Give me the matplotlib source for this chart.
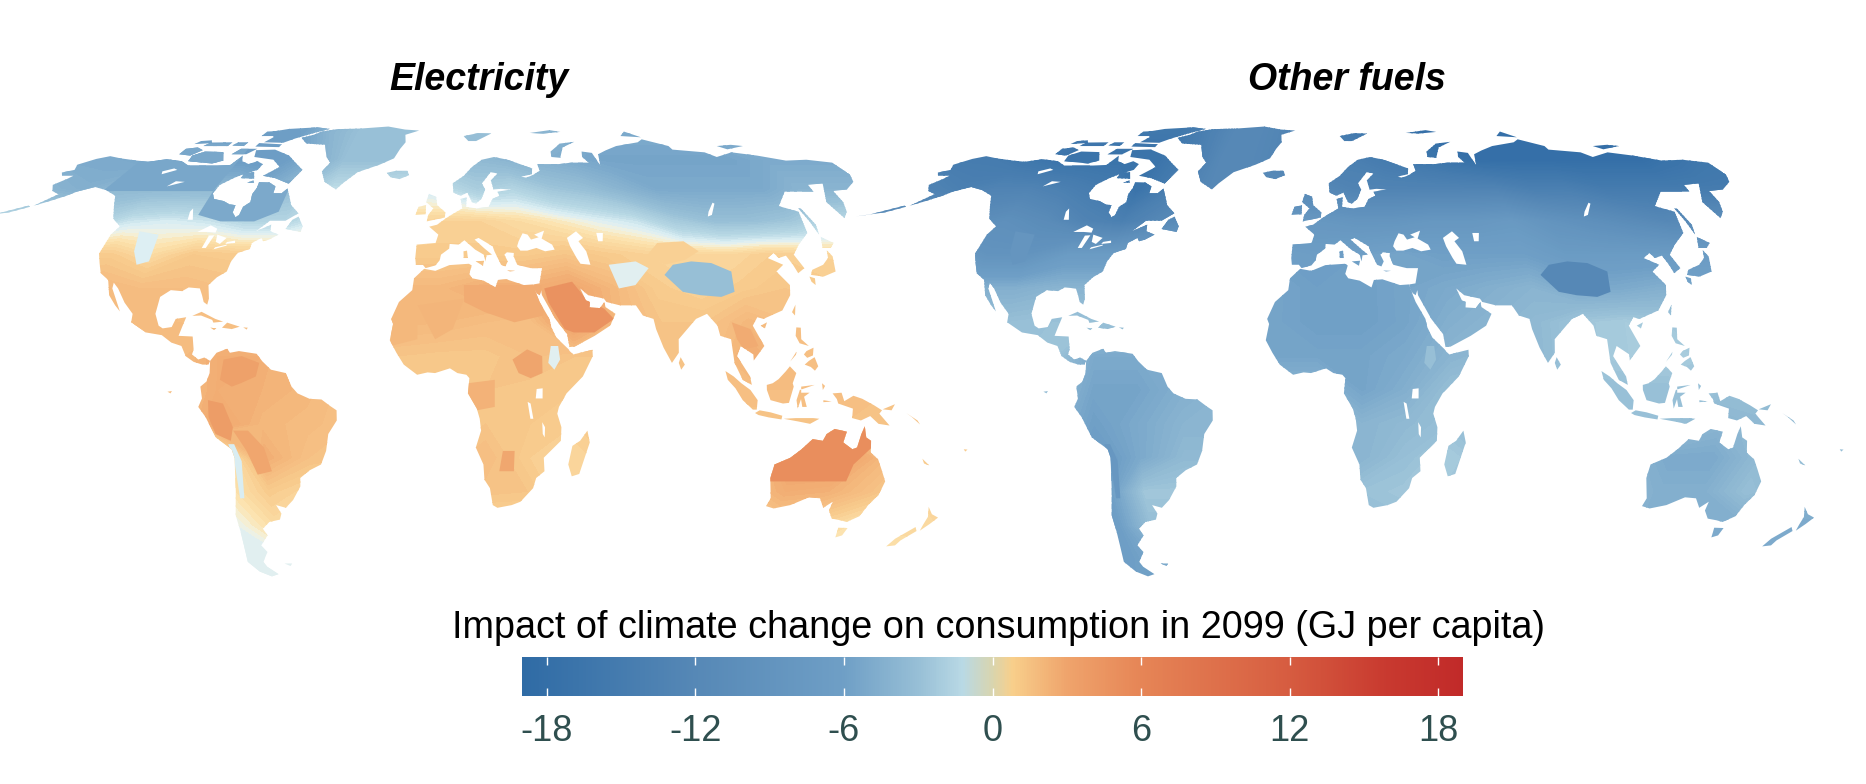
import numpy as np
import matplotlib
matplotlib.use("Agg")
import matplotlib.pyplot as plt
from matplotlib.colors import LinearSegmentedColormap, Normalize
from matplotlib.cm import ScalarMappable
from matplotlib.path import Path

plt.rcParams["font.family"] = ["Liberation Sans", "DejaVu Sans"]
plt.rcParams["axes.unicode_minus"] = False

##### panel titles, colour bar
panel_titles = ["Electricity", "Other fuels"]
bar_title = "Impact of climate change on consumption in 2099 (GJ per capita)"
bar_ticks = [-18, -12, -6, 0, 6, 12, 18]
value_limit = 19

grid_lons = [-180, -165, -150, -135, -120, -105, -90, -75, -60, -45, -30, -15, 0,
             15, 30, 45, 60, 75, 90, 105, 120, 135, 150, 165, 180]
grid_lats = [90, 80, 70, 60, 50, 40, 30, 20, 10, 0, -10, -20, -30, -40, -50, -60]
electricity_grid = [
    [-5, -5, -5, -6, -6, -6, -6, -6, -4, -3, -3, -3, -3, -3, -3, -4, -4, -5, -5, -5, -5, -5, -5, -5, -5],
    [-5, -5, -5, -6, -6, -6, -6.5, -6, -4, -3, -3, -3, -3, -3, -3, -4, -4, -5, -5, -5, -5, -5, -5, -5, -5],
    [-5, -5, -5, -5.5, -6, -6.5, -6.5, -6.5, -5, -3, -3, -3, -3, -3.5, -4, -4.5, -5, -5.5, -5.5, -5.5, -5.5, -5.5, -5, -5, -5],
    [-4, -4, -4.5, -3.5, -3.5, -3.5, -3.5, -5, -3, -1, -1, -0.5, -1, -2, -1.5, -2.5, -3, -4, -5, -5, -5, -5, -4, -4, -4],
    [-1, -1, -1, -2, -0.8, -0.5, -0.8, -1.5, -1.5, -0.5, 0.5, 1, 1.2, 1.2, 0.8, 0.3, -0.3, -0.8, -2.2, -3, -3, -2.5, -1.5, -1, -1],
    [1.5, 1.5, 1.5, 1.5, 1.5, 0.8, 1.6, 1.5, 1.5, 1.5, 1.5, 1.5, 1.5, 1.5, 1.5, 1.8, 1.5, 1.2, 1, 1, 1.4, 1.2, 1, 1, 1],
    [2, 2, 2, 2, 2.5, 2.2, 2.2, 2, 2, 2, 2, 2.5, 2.5, 3, 3, 3.5, 2.5, 1.5, 1.2, 1.5, 1.8, 1.5, 1.5, 1.5, 1.5],
    [2, 2, 2, 2, 2, 2.2, 2.2, 2, 2, 2, 2, 2.5, 2.4, 2.2, 2, 4, 2.5, 1.8, 1.8, 2.5, 2, 2, 2, 2, 2],
    [2, 2, 2, 2, 2, 2, 2.2, 3, 3, 2, 2, 1.8, 1.7, 1.7, 2, 1.8, 1.8, 1.8, 2, 3, 2.2, 2, 2, 2, 2],
    [2, 2, 2, 2, 2, 2, 2, 3, 2.8, 2.5, 2, 1.7, 1.7, 1.8, 1.7, 1.6, 1.7, 1.8, 2, 2.2, 2.2, 2, 2, 2, 2],
    [2, 2, 2, 2, 2, 2, 2, 3.5, 2.5, 2.3, 2, 1.7, 1.7, 1.8, 1.6, 1.4, 1.6, 1.8, 1.8, 1.8, 1.8, 2, 1.8, 1.8, 1.8],
    [1.5, 1.5, 1.5, 1.5, 1.5, 1.5, 1.5, -0.3, 3, 2, 1.8, 1.8, 1.8, 2.2, 1.4, 1, 1.5, 1.5, 1.5, 2, 4, 4, 2.5, 1.5, 1.5],
    [1, 1, 1, 1, 1, 1, 1, 0.3, 1.5, 1, 1, 1.6, 1.6, 1.9, 1.8, 1, 1, 1, 1, 2, 3, 2.8, 2, 1, 1],
    [1, 1, 1, 1, 1, 1, 1, -0.3, 0.8, 0.8, 1, 1, 1, 1, 1, 1, 1, 1, 1, 1, 1.5, 1.2, 0.5, 0.9, 1],
    [0.5, 0.5, 0.5, 0.5, 0.5, 0.5, 0.5, -0.3, -0.3, -0.3, 0.5, 0.5, 0.5, 0.5, 0.5, 0.5, 0.5, 0.5, 0.5, 0.5, 0.5, 0.5, 0.5, 0.5, 0.5],
    [0.5, 0.5, 0.5, 0.5, 0.5, 0.5, 0.5, -0.3, -0.3, -0.3, 0.5, 0.5, 0.5, 0.5, 0.5, 0.5, 0.5, 0.5, 0.5, 0.5, 0.5, 0.5, 0.5, 0.5, 0.5],
]
other_fuels_grid = [
    [-15, -15, -15, -16, -16, -16, -16, -16, -14, -12, -12, -13, -14, -15, -16, -17, -18, -18, -18, -18, -18, -18, -17, -16, -15],
    [-15, -15, -15, -16, -16, -16, -16, -16, -14, -12, -12, -13, -14, -15, -16, -17, -18, -18, -18, -18, -18, -18, -17, -16, -15],
    [-15, -15, -15, -16, -17, -17, -17, -17, -15, -12, -12, -13, -14, -14, -15, -16, -17, -18, -18, -18, -18, -18, -18, -17, -16],
    [-13, -13, -14, -13, -13, -14, -15, -17, -14, -12, -11, -11, -12, -13, -13, -13, -13, -13, -14, -14, -15, -15, -15, -15, -15],
    [-10, -10, -10, -11, -10, -11, -13, -14, -12, -10, -9, -8, -8, -8.5, -8.5, -8, -8, -7.5, -9, -10, -11, -12, -11, -10, -10],
    [-7, -7, -7, -7, -9, -9, -7, -7, -6, -6, -6, -6, -6.5, -6, -5.5, -6, -6, -6, -7, -7, -7, -7, -7, -7, -7],
    [-4, -4, -4, -4, -4.5, -4.5, -4, -4, -4, -5, -5, -5.5, -6, -6, -5.5, -5, -4.5, -4, -5, -5, -4.5, -5.5, -5, -5, -5],
    [-3, -3, -3, -3, -3, -3, -2.8, -2.8, -3, -4, -5, -5.5, -6, -6, -5.5, -4.5, -4, -3.5, -2.5, -2.2, -2.5, -3, -3, -3, -3],
    [-3, -3, -3, -3, -3, -3, -2.5, -5, -5, -5, -5, -5.5, -5.5, -5.5, -5, -4, -3.5, -3.5, -2.5, -2.2, -2, -2.5, -3, -3, -3],
    [-3, -3, -3, -3, -3, -3, -3, -5.5, -5.5, -4.5, -4, -4, -4, -5.5, -4.5, -3, -3, -3, -3, -3, -3, -3, -3, -3, -3],
    [-4, -4, -4, -4, -4, -4, -4, -6, -5, -4, -4, -4, -4, -4, -3.5, -3, -3, -3, -3, -3, -3, -4, -3.5, -3.5, -3.5],
    [-4, -4, -4, -4, -4, -4, -4, -7, -5, -3.5, -3.5, -4, -4, -4, -3, -2.2, -3, -3, -3, -4, -5, -5, -3.5, -3, -3],
    [-4, -4, -4, -4, -4, -4, -4, -7, -2.5, -2.5, -2.5, -2.8, -2.8, -2.8, -2.5, -2.5, -3, -3, -3, -4, -4.5, -4.5, -3, -4, -4],
    [-5, -5, -5, -5, -5, -5, -5, -7, -3, -3, -3, -3, -3, -3, -3, -3, -3, -4, -4, -4, -4.5, -4.5, -5, -5, -5],
    [-6, -6, -6, -6, -6, -6, -6, -6.5, -5, -5, -5, -5, -5, -5, -5, -5, -5, -5, -5, -5, -5, -5, -5, -5, -5],
    [-6, -6, -6, -6, -6, -6, -6, -6, -6, -6, -6, -6, -6, -6, -6, -6, -6, -6, -6, -6, -6, -6, -6, -6, -6],
]

##### regions with a flat value on top of the lattice, lon/lat
region_outlines = {
    "saudi": [(36, 30), (46, 32), (50, 27), (56, 24), (59, 21), (52, 17), (45, 17), (42, 18), (37, 26)],
    "north_sahara": [(8, 31), (35, 31), (35, 22), (25, 20), (15, 23), (8, 26)],
    "mali": [(-8, 25), (8, 27), (4, 18), (-2, 15)],
    "mauritania": [(-17, 21), (-8, 25), (-8, 15), (-17, 13)],
    "south_sudan": [(24, 9), (29, 12), (34, 10), (34, 5), (30, 3.5), (26, 5)],
    "ethiopia": [(37, 13), (39.5, 13), (40, 9), (38, 6), (36, 8)],
    "gabon": [(9, 2), (18, 3), (18, -5), (12, -6), (9, -1)],
    "botswana": [(21, -18), (25, -18), (25, -24), (20, -24)],
    "venezuela": [(-73, 9), (-67, 10), (-61, 8), (-62, 4), (-67, 2), (-70, 1), (-74, 3)],
    "peru": [(-78, -3), (-73, -4), (-70, -11), (-71, -15), (-76, -13), (-78, -8)],
    "bolivia": [(-70, -12), (-65, -12), (-60, -17), (-58, -24), (-63, -25), (-66, -18)],
    "atacama": [(-72, -16), (-70, -16), (-68, -21), (-69, -32), (-70.5, -32), (-70.5, -21)],
    "patagonia": [(-76, -42), (-71, -42), (-70, -48), (-66, -52), (-64, -56), (-76, -56)],
    "tibet": [(79, 34), (83, 37), (90, 38), (97, 37.5), (103, 35), (102, 29), (97, 27.5), (90, 28), (84, 29)],
    "xinjiang": [(75, 40), (80, 43.5), (90, 44), (94, 41), (88, 38.5), (80, 37)],
    "afghanistan": [(60, 37), (70, 38), (74, 36), (68, 31), (62, 30)],
    "rockies": [(-114, 47), (-106, 46), (-105, 38), (-109, 37), (-112, 41)],
    "thailand": [(99, 20), (105, 18), (107, 13), (102, 12), (100, 15)],
    "north_canada": [(-141, 59.5), (-95, 59.5), (-95, 76), (-141, 76)],
    "ontario_quebec": [(-95, 60), (-95, 52), (-85, 50), (-72, 50), (-64, 53), (-64, 63), (-80, 63)],
    "north_australia": [(113, -27), (140, -27), (141, -22), (146, -17), (144, -9), (131, -10), (120, -14), (113, -20)],
}
electricity_regions = {
    "saudi": 5.0, "north_sahara": 3.2, "mali": 2.6, "mauritania": 2.5, "south_sudan": 3.7,
    "ethiopia": -0.3, "gabon": 2.8, "botswana": 3.5, "venezuela": 4.0, "peru": 4.3, "bolivia": 3.6,
    "atacama": -0.5, "patagonia": -0.35, "tibet": -3.0, "xinjiang": 1.3, "afghanistan": -0.3,
    "rockies": -0.4, "thailand": 3.2, "north_canada": -5.2, "ontario_quebec": -5.0, "north_australia": 5.3,
}
other_fuels_regions = {
    "ethiopia": -3.0, "atacama": -8.0, "tibet": -12.0, "rockies": -8.5,
}

##### coast outlines, lon/lat
land_outlines = [
    # north america
    [(-168, 65.6), (-164, 66.5), (-166, 68.3), (-161, 70.3), (-156.5, 71.3), (-150, 70.5), (-141, 69.7), (-135, 69.3),
     (-128, 70.2), (-120, 69.5), (-115, 68), (-108, 68), (-102, 68), (-96, 68.2), (-94, 71.5), (-92, 69.5), (-88, 68.5),
     (-85, 69.5), (-81.5, 68.5), (-82, 66.5), (-87, 65), (-90, 63.8), (-94, 61.5), (-94.5, 58.8), (-92.5, 57), (-88, 56.3),
     (-85, 55.3), (-82.3, 55), (-82, 52.8), (-80, 51.3), (-79, 52), (-79, 54.5), (-77, 56), (-78, 58.5), (-77.5, 60.5),
     (-78, 62.4), (-73.5, 62.3), (-70, 61), (-69.5, 58.8), (-66, 58.8), (-64.5, 60.3), (-62, 57.5), (-60, 55), (-56, 52.5),
     (-60, 50.2), (-66, 50.2), (-70, 47), (-65, 49), (-64.5, 47), (-61, 46), (-64, 44.5), (-66, 44), (-67, 45), (-70, 43.5),
     (-70, 41.7), (-74, 40.5), (-75.5, 38), (-76, 35), (-79, 33.3), (-81.3, 31), (-80.2, 27), (-80.4, 25.2), (-81.8, 26),
     (-82.8, 28), (-84, 30), (-88, 30.3), (-90, 29.2), (-94, 29.5), (-97.2, 27.5), (-97.7, 22.5), (-96, 19), (-94.5, 18.2),
     (-91.5, 18.6), (-90.5, 21), (-87, 21.5), (-88, 18.5), (-88.8, 16), (-84, 15.8), (-83.3, 12), (-83.7, 10.5), (-81.5, 9),
     (-79.5, 9.6), (-77.5, 8.6), (-78, 7.5), (-80, 7.5), (-83, 8.3), (-85.8, 10), (-87.5, 13), (-91, 14), (-94.5, 16.2),
     (-100, 17), (-105.5, 20), (-105.5, 22.5), (-109, 25.8), (-112.5, 30), (-114.7, 31.7), (-114.5, 30), (-110, 23.2),
     (-112, 25), (-115, 28), (-117, 32.5), (-120.5, 34.5), (-122.5, 37.5), (-124.3, 40.3), (-124, 46), (-122.5, 48.5),
     (-127, 50.8), (-130.5, 54.5), (-134, 58), (-140, 59.8), (-146, 60.8), (-151.5, 59.3), (-154, 58), (-158, 56.5),
     (-163, 54.8), (-158, 58.5), (-162, 59.5), (-165, 61.5), (-162, 63.5), (-161, 64.5), (-166, 64.5)],
    # aleutians
    [(-164, 54.5), (-170, 52.8), (-180, 51.5), (-175, 52.2), (-165, 54.9)],
    # arctic canada
    [(-65, 61.9), (-72, 63.7), (-78, 64.5), (-73, 67.5), (-78, 70), (-88, 71), (-90, 73.5), (-81, 73.7), (-72, 71.5), (-67, 69), (-62, 66.5)],
    [(-117, 69.5), (-105, 68.7), (-101, 69.7), (-105, 72.8), (-114, 73), (-118, 71.5)],
    [(-125, 72), (-119, 71.5), (-116, 73.5), (-120, 74.5), (-125, 74)],
    [(-90, 76.5), (-80, 76.3), (-76, 78), (-68, 80.5), (-62, 82.3), (-70, 83.1), (-85, 82.3), (-92, 81), (-88, 78.5)],
    [(-92, 74.8), (-80, 74.6), (-80, 75.7), (-92, 76.2)],
    [(-100, 72), (-93, 72), (-90, 74), (-98, 74)],
    [(-118, 75), (-106, 75), (-106, 76.5), (-117, 76.4)],
    [(-104, 75.2), (-98, 75), (-98, 76.5), (-103, 76.5)],
    [(-124, 75.8), (-116, 76.2), (-118, 77.3), (-123, 77)],
    [(-95, 79), (-88, 79), (-88, 81.3), (-95, 81)],
    [(-87, 63.7), (-81, 63.5), (-83, 65.8), (-87, 65.3)],
    [(-83, 62.2), (-80, 62.2), (-81, 63)],
    [(-59, 47.7), (-53, 46.8), (-52.8, 48.5), (-55.5, 51.5), (-57.5, 50.5)],
    # caribbean and atlantic specks
    [(-85, 21.9), (-82, 23.1), (-77, 21), (-74.2, 20.2), (-77.5, 19.9), (-78, 20.7), (-82, 22)],
    [(-74.4, 18.4), (-72.8, 19.9), (-68.4, 18.7), (-71, 18)],
    [(-78.3, 18.4), (-76.3, 18.2), (-77, 17.7)],
    [(-67.2, 18.5), (-65.6, 18.4), (-66, 17.9)],
    [(-91.5, -0.5), (-90, -0.3), (-90.5, -1)],
    [(-61, -51.5), (-58, -51.5), (-59, -52.3)],
    # greenland, iceland
    [(-73, 78.3), (-68, 76), (-58, 75.5), (-54, 71), (-51, 69), (-53, 66), (-50, 62.5), (-44, 60), (-42, 62), (-37, 65.7),
     (-28, 68.3), (-22, 70.5), (-20, 74), (-18, 76.5), (-19, 79.5), (-12, 81.5), (-20, 82), (-30, 83.5), (-45, 82.5),
     (-58, 82.2), (-65, 81), (-68, 79.5)],
    [(-24, 65.5), (-22, 64), (-18, 63.4), (-14, 64.7), (-15, 66.2), (-20, 66.2)],
    # south america
    [(-77.5, 8.6), (-75.5, 11), (-72, 12.2), (-71, 11), (-68, 11.5), (-62, 10.7), (-60, 8.5), (-57, 6), (-52, 5), (-50, 1),
     (-48, -1), (-44, -2.6), (-40, -2.8), (-37, -4.8), (-35, -6), (-35, -9), (-38, -13), (-39, -18), (-41, -22), (-45, -23.7),
     (-48.5, -26), (-48.8, -28.5), (-52, -32.5), (-55, -34.8), (-58.3, -34), (-57, -36.5), (-58, -38.3), (-62, -39), (-65, -41),
     (-64, -43), (-67.5, -46), (-66, -48), (-69, -51), (-68.3, -52.5), (-65, -54.8), (-68, -55.5), (-72, -54), (-75, -51),
     (-74, -46), (-73.5, -42), (-73.5, -37), (-71.5, -30), (-70.3, -20), (-71, -17.5), (-76, -14), (-79, -8), (-81.3, -5),
     (-80, -2.5), (-80.5, 1), (-78.5, 2.5), (-77.5, 5), (-77.5, 7.3)],
    # africa
    [(-6, 35.8), (-2, 35.2), (3, 36.9), (10, 37.3), (11, 36.8), (10, 34.3), (11, 33), (15, 32.3), (19, 30.3), (20, 32.5),
     (23, 32.7), (29, 31), (32.3, 31.2), (32.5, 30), (34, 26), (37, 21), (37.5, 18.5), (39, 15.5), (43, 12), (43.3, 11.5),
     (44.5, 10.5), (51, 11.9), (51, 10), (47.5, 4), (42, -1), (39.5, -5), (39, -7), (40.5, -11), (40.5, -15), (35, -20),
     (35.5, -24), (32.8, -26), (32, -29), (28, -33), (25, -34), (20, -34.8), (18.3, -34), (17, -29), (15, -26.5), (14.5, -22),
     (11.8, -17), (13.5, -12), (13, -8.5), (12, -5.5), (9, -1), (9.5, 3.5), (8.5, 4.5), (5.5, 5), (3, 6.4), (-2, 5), (-4.5, 5.2),
     (-8, 4.5), (-12.5, 7.5), (-15, 11), (-17.3, 14.7), (-16.3, 19.5), (-17, 21), (-14.5, 26), (-10, 29.5), (-9.5, 33)],
    [(49.3, -12), (50.3, -15.5), (47.5, -24.8), (45, -25.5), (43.5, -22), (44.5, -16.5), (47, -15)],
    # eurasia
    [(-9, 37), (-9.3, 39), (-9, 43), (-2, 43.5), (-1, 46), (-4.5, 48.4), (-1.5, 49), (2, 51), (4, 52), (8.5, 54), (8, 57),
     (10.5, 57.5), (10, 54.5), (14, 54), (19, 54.5), (21, 57), (24, 58), (23.5, 59.3), (29.5, 60), (25, 60.2), (22, 60),
     (21.5, 63), (25, 65.3), (22, 65.7), (17.5, 62), (18.5, 60), (16.5, 57), (14, 55.5), (12.5, 56), (11, 59), (8, 58), (5.2, 59),
     (5, 62), (10, 64.5), (14, 67.5), (19, 70), (25, 71), (31, 70), (41, 67), (40, 65), (35, 64.2), (37, 63.9), (40, 64.6),
     (44, 66.2), (44, 68.5), (54, 68.5), (60, 69), (68, 69), (66.5, 71), (68, 73), (72.5, 72.5), (72.5, 68), (75, 72), (80, 73.4),
     (87, 75), (100, 76.5), (104, 77.7), (113, 75), (113, 73.7), (127, 72.7), (130, 71), (140, 72.7), (150, 71.5), (160, 69.7),
     (170, 70), (180, 69), (180, 65), (177, 62.5), (170, 60), (163.5, 59.5), (162.5, 56), (160, 53), (156.7, 51), (155.7, 56),
     (158, 58), (163, 62), (156, 61.5), (155, 59.3), (143, 59.3), (135, 54.7), (141, 53), (138, 46.5), (132, 43), (128, 40),
     (129.5, 36), (126.5, 34.5), (126, 37), (125, 39.7), (122, 39), (121, 40.5), (118, 39), (122.5, 37), (119, 35), (122, 31),
     (121, 28), (117, 23.5), (110, 21), (108, 21.5), (106, 19), (109, 13), (105, 8.7), (105, 10.5), (101, 13), (99.5, 10),
     (103.5, 4), (104, 1.5), (101, 3), (98.5, 8), (98, 15), (94.5, 16), (94, 19), (91, 22.5), (87, 21), (80.3, 15), (80, 11),
     (77.5, 8), (75, 12.5), (73, 18), (72.5, 21), (69, 22), (67, 25), (61.5, 25), (57, 26), (56.3, 27), (51, 28), (48.5, 30),
     (50, 26.5), (51.3, 26), (51, 24.4), (54.5, 24.2), (56.3, 26), (56.5, 24.5), (59.7, 22.5), (57.5, 19), (52, 16), (45, 12.8),
     (43.3, 12.7), (42.7, 16.5), (39, 21), (35, 28), (34.9, 29.5), (34.2, 28), (33.2, 28.6), (32.5, 30), (32.4, 31.2), (34.5, 31.5),
     (36, 36), (32, 36), (30.5, 36.3), (27.3, 37), (26.3, 39.5), (26.5, 40.5), (24, 40.7), (23, 40), (24, 38), (23, 36.5),
     (21.5, 37), (19.5, 41), (19, 42.5), (14, 45), (12.5, 44.5), (16, 41.8), (18.5, 40), (16.5, 39.8), (16, 38), (15.5, 40),
     (12.5, 41.5), (10.5, 43), (8.7, 44.3), (6.5, 43), (3.2, 43.2), (3, 41.8), (0, 40), (-0.5, 38.3), (-2, 36.8), (-5.5, 36), (-6.5, 37)],
    # european and arctic islands
    [(-5.5, 50), (1.5, 51.2), (1.7, 52.8), (-1.5, 55), (-2, 57.7), (-5, 58.6), (-6, 56), (-3, 54), (-5, 52)],
    [(-10, 52), (-6, 52.2), (-6, 55), (-9, 54.5)],
    [(12, 79), (20, 80.2), (27, 80), (18, 77), (14, 77)],
    [(48, 80.3), (60, 81.7), (65, 80.8), (55, 80)],
    [(52, 71), (56, 70.7), (60, 74.5), (68, 76.7), (60, 76), (53, 73)],
    [(95, 79), (105, 78.5), (100, 81)],
    [(137, 75), (145, 75.5), (150, 75), (140, 73.8)],
    [(8.2, 39), (9.7, 39), (9.5, 41.2), (8.2, 41)],
    [(12.5, 38), (15.5, 38.2), (15, 36.7)],
    [(23.5, 35.3), (26.3, 35.2), (24.5, 35)],
    # east asia
    [(142, 46), (143.5, 49), (143, 54), (142, 54), (142, 50)],
    [(130.8, 34), (135, 33.5), (140, 35), (141.8, 39.5), (141, 41.3), (139.8, 39), (136.8, 37), (132, 35.5)],
    [(130, 33.5), (131.7, 33), (131, 31), (130, 32)],
    [(140, 42), (143, 42), (145.3, 43.5), (142, 45.3)],
    [(120.2, 23), (121.9, 25.2), (121, 22)],
    [(108.7, 19), (111, 20), (110, 18.2)],
    [(79.8, 8), (80.5, 9.7), (81.8, 7.5), (80.5, 6)],
    [(120, 16), (120.7, 18.5), (122.2, 18.4), (121.7, 15), (124, 13), (121, 13.8)],
    [(122, 7.5), (123.5, 8.6), (125.5, 9.7), (126.5, 7), (125.3, 5.7), (124, 6.8)],
    [(122, 10.5), (123, 11.5), (125.5, 12.5), (125, 10.2), (123, 9.5)],
    [(117.2, 8.4), (119.6, 11.3), (119.3, 10.4)],
    [(109, 1.5), (111, 2), (113, 3.2), (115.5, 5.5), (117, 7), (119, 5), (117.7, 2), (118, 1), (116.5, -3.8), (114.5, -4), (110.3, -3), (109, 0)],
    [(95.3, 5.6), (98, 4), (100.5, 2), (103.5, 0), (106, -3), (105.8, -5.8), (104.5, -5.8), (101, -3), (98.5, 0.5), (96, 3)],
    [(105.3, -6.8), (106.8, -6), (110.5, -6.6), (114.5, -7.6), (114.3, -8.7), (110, -8.1), (106.5, -7.4)],
    [(119.5, -5.5), (120.5, -2.7), (121, -5), (122.5, -5), (121.5, -2), (123.3, -0.8), (120.5, -0.8), (120.5, 1), (125, 1.5), (120, 0), (119, -3)],
    [(115, -8.5), (119, -8.3), (125, -8.3), (127, -8.5), (124, -10), (120, -9.3)],
    [(131, -1), (134, -0.8), (135, -3.3), (138, -1.7), (141, -2.6), (145, -4.5), (147.8, -6), (147, -7), (150.8, -10.5), (147, -10),
     (144, -7.7), (141, -9), (138, -8.3), (138, -5.5), (133, -4), (132.5, -2.7)],
    [(128, -3), (130.8, -3.4), (128, -3.6)],
    [(127.5, 2), (128.5, 1.2), (127.7, 0)],
    [(148, -5.7), (152, -4.2), (151, -6)],
    [(156, -6.8), (160, -9), (161, -10.2), (158, -8)],
    [(164, -20.3), (167, -22.3), (165, -21.7)],
    [(177.3, -17.5), (178.6, -17.6), (178, -18.2)],
    # australia, new zealand
    [(114, -22), (113.5, -26), (115.7, -32), (115, -34.3), (118, -35), (123.5, -34), (129, -31.7), (133, -32), (135.5, -34.8),
     (138, -33), (138, -35.6), (140.5, -38), (144, -38.5), (146.5, -39), (150, -37.3), (151, -34), (153, -31), (153.5, -27),
     (151, -23.5), (149, -20.5), (146, -18.5), (145.3, -15), (143.5, -14), (142.5, -10.7), (141.7, -13), (141, -17), (139.5, -17.5),
     (136, -15.5), (136.7, -12.3), (132.5, -11.5), (130, -13), (129, -15), (125.5, -14.5), (122.3, -17.5), (119, -20)],
    [(144.7, -40.7), (148.2, -40.8), (148, -43), (146, -43.6), (145.3, -42)],
    [(172.7, -34.5), (175.5, -36.7), (178.5, -37.7), (177, -39.6), (175.3, -41.6), (174.8, -39.8), (174.7, -37.5)],
    [(172.7, -40.5), (174.2, -41.7), (171, -44.5), (170.5, -46), (167.5, -46.3), (168.5, -44)],
]
water_outlines = [
    [(28, 42.5), (28.8, 44), (30.7, 46.4), (32.5, 46), (33.5, 44.5), (36.5, 45.2), (35, 46), (39, 47.2), (37.5, 44.8), (41, 43),
     (41.6, 41.5), (38, 41), (35, 42), (31.5, 41.2), (29, 41.2)],
    [(47, 45), (51, 47), (53, 45), (51, 44), (53, 41), (53.5, 37), (50, 37.3), (49, 39), (47.5, 42.5)],
    [(58.5, 46.5), (61, 46.5), (60, 44), (58.3, 44)],
    [(104, 51.5), (106, 52), (110, 55.5), (109.5, 55.8), (105.5, 53)],
    [(-92, 46.8), (-88, 48.8), (-85, 47.8), (-85, 46.6), (-88, 46.8)],
    [(-87.8, 42), (-86.3, 42), (-85, 45.8), (-87, 45.7)],
    [(-84, 46), (-80, 45), (-81.7, 43.2), (-83.5, 43.8)],
    [(-83.3, 41.6), (-79, 42.7), (-79, 43), (-83, 42.2)],
    [(-79.7, 43.2), (-76.2, 43.5), (-76.5, 44.2), (-79.3, 43.8)],
    [(-123, 65), (-118, 66.5), (-120, 67), (-124, 66)],
    [(-116, 61), (-110, 62.5), (-114, 62.7)],
    [(-98, 50.5), (-96, 50.5), (-98.5, 54), (-99, 53)],
    [(31.7, -2.5), (34, -2.5), (34, 0.5), (32, 0.3)],
    [(29, -3.5), (30, -4), (31, -8.5), (30, -8.5)],
    [(34, -9.5), (35, -11), (35, -14), (34.3, -13)],
]

##### colour scales: the bar, and the paler version the maps use around zero
bar_stops = [(-19, "#2F6BA5"), (-12, "#5688B6"), (-6, "#6F9FC6"), (-3, "#97BFD6"), (-1.2, "#B9D9E5"), (0, "#D9D5AE"),
             (0.8, "#F8CF8B"), (3, "#EFA46C"), (6, "#E68556"), (12, "#D65C40"), (16, "#C8392F"), (19, "#C12A29")]
map_stops = [(-19, "#2F6BA5"), (-12, "#5688B6"), (-6, "#6F9FC6"), (-3, "#97BFD6"), (-1.2, "#B9D9E5"), (-0.4, "#DDEFF3"),
             (0, "#F3F2DF"), (0.5, "#FCE3AE"), (1.5, "#F8CB8D"), (3, "#F2AE74"), (6, "#E68556"), (12, "#D65C40"),
             (16, "#C8392F"), (19, "#C12A29")]


def make_cmap(stops, name):
    return LinearSegmentedColormap.from_list(
        name, [((v + value_limit) / (2 * value_limit), c) for v, c in stops], N=512)


##### robinson projection table, every 5 degrees
rob_lats = np.arange(0, 95, 5)
rob_ple = [1, .9986, .9954, .99, .9822, .973, .96, .9427, .9216, .8962, .8679, .835, .7986, .7597, .7186, .6732, .6213, .5722, .5322]
rob_pdfe = [0, .062, .124, .186, .248, .31, .372, .434, .4958, .5571, .6176, .6769, .7346, .7903, .8435, .8936, .9394, .9761, 1]


def robinson(lon, lat):
    lon, lat = np.asarray(lon, float), np.asarray(lat, float)
    x = lon * np.interp(np.abs(lat), rob_lats, rob_ple)
    y = np.sign(lat) * np.interp(np.abs(lat), rob_lats, rob_pdfe)
    return x, y


def project_ring(ring):
    lon, lat = zip(*ring)
    x, y = robinson(lon, lat)
    pts = np.column_stack([x, y])
    # all rings same way round, otherwise overlaps punch holes in the clip
    area = np.sum(pts[:, 0] * np.roll(pts[:, 1], -1) - np.roll(pts[:, 0], -1) * pts[:, 1])
    return pts if area > 0 else pts[::-1]


def land_path():
    verts, codes = [], []
    for ring in land_outlines:
        pts = project_ring(ring)
        verts.extend(pts.tolist() + [pts[0].tolist()])
        codes.extend([Path.MOVETO] + [Path.LINETO] * (len(pts) - 1) + [Path.CLOSEPOLY])
    return Path(verts, codes)


W, H = 1866, 784
fig = plt.figure(figsize=(W / 100, H / 100), dpi=100)
map_cmap = make_cmap(map_stops, "impact_map")
bar_cmap = make_cmap(bar_stops, "impact_bar")
norm = Normalize(-value_limit, value_limit)
levels = np.arange(-value_limit, value_limit + 0.1, 0.2)

lon_mesh, lat_mesh = np.meshgrid(grid_lons, grid_lats)
mesh_x, mesh_y = robinson(lon_mesh, lat_mesh)

##### panels: 2.99 px per degree, 273 px from equator to pole, equator at y=390
px_per_deg = 2.99
half_h = 273
for centre_x, title, title_x, grid, regions in [
        (441, panel_titles[0], 479, electricity_grid, electricity_regions),
        (1317, panel_titles[1], 1347, other_fuels_grid, other_fuels_regions)]:
    ax = fig.add_axes([(centre_x - 180 * px_per_deg) / W, (H - 390 - half_h) / H,
                       360 * px_per_deg / W, 2 * half_h / H])
    ax.set_xlim(-180, 180)
    ax.set_ylim(-1, 1)
    ax.axis("off")
    ax.patch.set_alpha(0)

    clip = land_path()
    cs = ax.contourf(mesh_x, mesh_y, np.array(grid, float), levels=levels, cmap=map_cmap, norm=norm, extend="both")
    cs.set_clip_path(clip, ax.transData)
    for name, value in regions.items():
        pts = project_ring(region_outlines[name])
        poly = ax.fill(pts[:, 0], pts[:, 1], color=map_cmap(norm(value)), lw=0)[0]
        poly.set_clip_path(clip, ax.transData)
    for ring in water_outlines:
        pts = project_ring(ring)
        ax.fill(pts[:, 0], pts[:, 1], color="white", lw=0)

    fig.text(title_x / W, 1 - 90 / H, title, fontsize=27, fontweight="bold", fontstyle="italic",
             ha="center", va="baseline", color="black")

##### colour bar
fig.text(999 / W, 1 - 638 / H, bar_title, fontsize=27.2, ha="center", va="baseline", color="black")
cax = fig.add_axes([522 / W, (H - 696) / H, 941 / W, 39 / H])
cb = fig.colorbar(ScalarMappable(norm=norm, cmap=bar_cmap), cax=cax, orientation="horizontal")
cb.set_ticks(bar_ticks)
cb.set_ticklabels([str(t) for t in bar_ticks])
cb.outline.set_visible(False)
cax.tick_params(axis="x", which="major", direction="in", length=6, width=1, color="white",
                top=True, bottom=True, labelsize=26, labelcolor="#2F4F4F", pad=13)
cax.minorticks_off()

fig.savefig("out.png", dpi=100, facecolor="white")
